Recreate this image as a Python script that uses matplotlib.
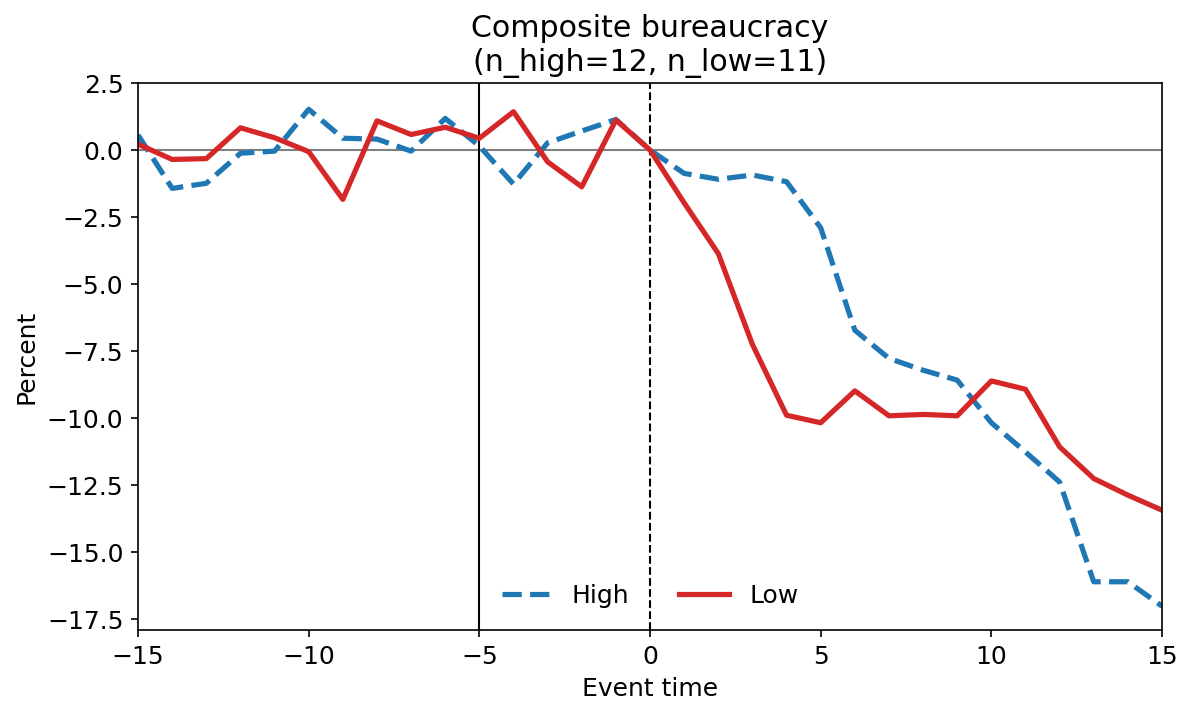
import numpy as np
import matplotlib.pyplot as plt


# Event time axis and the two group series (percent)
event_time = np.arange(-15, 16)
high = [0.56, -1.43, -1.24, -0.12, -0.04, 1.52, 0.44, 0.41, -0.04, 1.18, 0.15,
        -1.27, 0.27, 0.71, 1.14, 0.0, -0.87, -1.09, -0.93, -1.18, -2.90,
        -6.72, -7.77, -8.21, -8.58, -10.17, -11.26, -12.38, -16.10, -16.10, -17.01]
low = [0.22, -0.35, -0.32, 0.83, 0.46, -0.06, -1.84, 1.09, 0.58, 0.85, 0.44,
       1.43, -0.44, -1.37, 1.12, 0.0, -1.97, -3.86, -7.25, -9.89, -10.17,
       -8.98, -9.91, -9.86, -9.91, -8.61, -8.92, -11.07, -12.25, -12.87, -13.43]

n_high, n_low = 12, 11

plt.rcParams["font.size"] = 12

fig = plt.figure(figsize=(7.9, 4.7067), dpi=150)
ax = fig.add_axes([0.1165, 0.1076, 0.8641, 0.7748])

ax.axhline(0, color="gray", linewidth=1)
ax.axvline(-5, color="black", linewidth=1)
ax.axvline(0, color="black", linewidth=1, linestyle="--")

ax.plot(event_time, high, color="tab:blue", linestyle="--", linewidth=2.5, label="High")
ax.plot(event_time, low, color="tab:red", linewidth=2.5, label="Low")

ax.set_xlim(-15, 15)
ax.set_ylim(-17.9, 2.5)
ax.set_yticks(np.arange(-17.5, 2.6, 2.5))
ax.set_xlabel("Event time")
ax.set_ylabel("Percent")
ax.set_title(f"Composite bureaucracy\n(n_high={n_high}, n_low={n_low})")
ax.legend(loc="lower center", ncol=2, frameon=False)

fig.savefig("out.png", dpi=150)
